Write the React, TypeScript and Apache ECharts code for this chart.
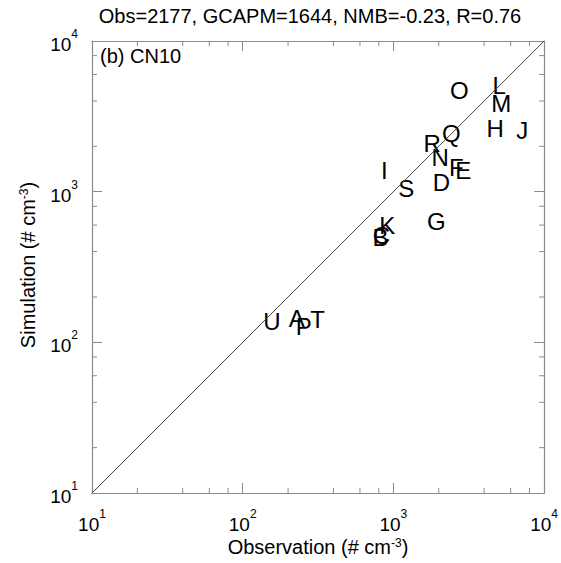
import React, { useEffect, useRef } from "react";
import * as echarts from "echarts";

const siteLabels = ["A","B","C","D","E","F","G","H","I","J","K","L","M","N","O","P","Q","R","S","T","U"];
const observed = [228, 820, 833, 2080, 2910, 2612, 1928, 4730, 871, 7150, 912, 5035, 5190, 2047, 2735, 254, 2421, 1811, 1219, 314, 156];
const simulated = [145, 500, 510, 1159, 1390, 1456, 638, 2640, 1390, 2565, 600, 5090, 3870, 1698, 4720, 128, 2450, 2099, 1057, 141, 138];
const axisMin = 10;
const axisMax = 10000;
const minorTickValues = [20, 40, 60, 80, 200, 400, 600, 800, 2000, 4000, 6000, 8000];
const titleText = "Obs=2177, GCAPM=1644, NMB=-0.23, R=0.76";
const panelText = "(b) CN10";

const FONT = "Liberation Sans, Arial, Helvetica, sans-serif";
const FRAME = "#8a8a8a";

const supRich = {
  b: { fontSize: 19, lineHeight: 26, verticalAlign: "bottom", fontFamily: FONT, color: "#000" },
  s: { fontSize: 12, lineHeight: 12, verticalAlign: "top", fontFamily: FONT, color: "#000" },
};

const powLabel = (v: number) => `{b|10}{s|${Math.round(Math.log10(v))}}`;

export default function App() {
  const ref = useRef<HTMLDivElement>(null);
  useEffect(() => {
    if (!ref.current) return;
    const chart = echarts.init(ref.current, null, { renderer: "svg" });
    const gridL = 92, gridT = 41, gridW = 453, gridH = 452;
    const baseAxis = (position: string, showLabel: boolean) => ({
      type: "log",
      logBase: 10,
      min: axisMin,
      max: axisMax,
      position,
      splitLine: { show: false },
      axisLine: { show: true, lineStyle: { color: FRAME, width: 1.2 } },
      axisTick: { show: true, inside: true, length: 10, lineStyle: { color: FRAME, width: 1 } },
      axisLabel: {
        show: showLabel,
        formatter: powLabel,
        rich: supRich,
        margin: 14,
      },
    });
    const points = siteLabels.map((s, i) => [observed[i], simulated[i], s]);
    chart.setOption({
      animation: false,
      grid: { left: gridL, top: gridT, width: gridW, height: gridH },
      xAxis: [
        { ...baseAxis("bottom", true), axisLabel: { ...baseAxis("bottom", true).axisLabel, margin: 15 } },
        { ...baseAxis("top", false) },
      ],
      yAxis: [
        { ...baseAxis("left", true) },
        { ...baseAxis("right", false) },
      ],
      graphic: [
        {
          type: "text",
          x: 310,
          y: 16,
          style: {
            text: titleText,
            fontSize: 20,
            fontFamily: FONT,
            fill: "#000",
            textAlign: "center",
            textVerticalAlign: "middle",
            align: "center",
            verticalAlign: "middle",
          },
        },
        {
          type: "text",
          x: 100,
          y: 56,
          style: {
            text: panelText,
            fontSize: 20,
            fontFamily: FONT,
            fill: "#000",
            textAlign: "left",
            textVerticalAlign: "middle",
            align: "left",
            verticalAlign: "middle",
          },
        },
        {
          type: "text",
          x: 318,
          y: 547,
          style: {
            text: "Observation (# cm{s|-3})",
            fontSize: 20,
            fontFamily: FONT,
            fill: "#000",
            rich: {
              s: { fontSize: 12, verticalAlign: "top", lineHeight: 12, fontFamily: FONT, fill: "#000" },
            },
            textAlign: "center",
            textVerticalAlign: "middle",
            align: "center",
            verticalAlign: "middle",
          },
        },
        {
          type: "text",
          x: 28,
          y: 265,
          rotation: Math.PI / 2,
          style: {
            text: "Simulation (# cm{s|-3})",
            fontSize: 20,
            fontFamily: FONT,
            fill: "#000",
            rich: {
              s: { fontSize: 12, verticalAlign: "top", lineHeight: 12, fontFamily: FONT, fill: "#000" },
            },
            textAlign: "center",
            textVerticalAlign: "middle",
            align: "center",
            verticalAlign: "middle",
          },
        },
      ],
      series: [
        {
          type: "line",
          data: [[axisMin, axisMin], [axisMax, axisMax]],
          symbol: "none",
          lineStyle: { color: "#444", width: 1 },
          silent: true,
        },
        {
          type: "custom",
          clip: false,
          silent: true,
          data: minorTickValues.map((v) => [v, v]),
          renderItem: (params: any, api: any) => {
            const v = api.value(0);
            const x = api.coord([v, axisMin])[0];
            const y = api.coord([axisMin, v])[1];
            const bl = api.coord([axisMin, axisMin]);
            const tr = api.coord([axisMax, axisMax]);
            const len = 5;
            const st = { stroke: FRAME, lineWidth: 1 };
            return {
              type: "group",
              children: [
                { type: "line", shape: { x1: x, y1: bl[1], x2: x, y2: bl[1] - len }, style: st },
                { type: "line", shape: { x1: x, y1: tr[1], x2: x, y2: tr[1] + len }, style: st },
                { type: "line", shape: { x1: bl[0], y1: y, x2: bl[0] + len, y2: y }, style: st },
                { type: "line", shape: { x1: tr[0], y1: y, x2: tr[0] - len, y2: y }, style: st },
              ],
            };
          },
        },
        {
          type: "custom",
          clip: false,
          silent: true,
          data: points,
          renderItem: (params: any, api: any) => {
            const p = api.coord([api.value(0), api.value(1)]);
            return {
              type: "text",
              x: p[0],
              y: p[1],
              style: {
                text: points[params.dataIndex][2],
                fontSize: 24,
                fontFamily: FONT,
                fill: "#000",
                textAlign: "center",
                textVerticalAlign: "middle",
                align: "center",
                verticalAlign: "middle",
              },
            };
          },
        },
      ],
    });
    return () => chart.dispose();
  }, []);
  return (
    <div
      ref={ref}
      style={{ position: "absolute", left: 0, top: 0, width: 561, height: 563, background: "#fff" }}
    />
  );
}
